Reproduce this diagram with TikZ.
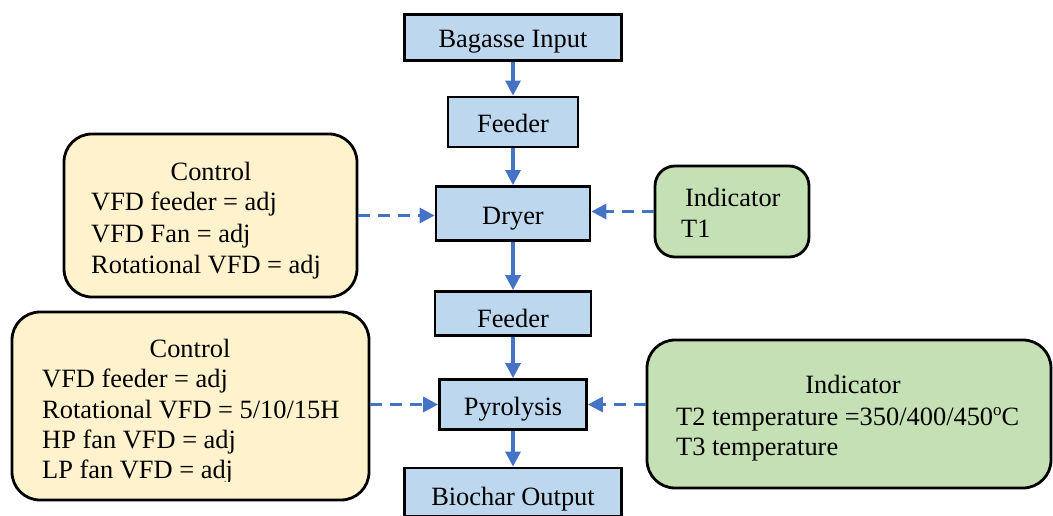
\documentclass[tikz,border=0pt]{standalone}
\usepackage{fontspec}
\setmainfont{Liberation Serif}
\usetikzlibrary{arrows.meta}

\definecolor{procfill}{HTML}{BDD7EE}
\definecolor{ctrlfill}{HTML}{FFF2CC}
\definecolor{indfill}{HTML}{C5E0B4}
\definecolor{flow}{HTML}{4472C4}

\tikzset{
  txt/.style={font=\fontsize{26.4}{31}\selectfont, inner sep=0pt},
  proc/.style={draw=black, line width=2.8pt, fill=procfill, inner sep=0pt},
  panel/.style={draw=black, line width=2.8pt, rounded corners=28pt, inner sep=0pt},
  flowarrow/.style={draw=flow, line width=3.2pt, -{Triangle[length=15pt,width=15pt]}},
  sigarrow/.style={flowarrow, dash pattern=on 12pt off 8pt},
}

\begin{document}
\begin{tikzpicture}[x=1pt, y=-1pt]
\useasboundingbox (0,0) rectangle (1053,516);
\clip (0,0) rectangle (1053,516);

% process chain
\node[proc, minimum width=217pt, minimum height=46pt] (bag)   at (513,37.5)  {};
\node[proc, minimum width=130pt, minimum height=50pt] (feed1) at (513,122)   {};
\node[proc, minimum width=154pt, minimum height=54pt] (dryer) at (513,213.5) {};
\node[proc, minimum width=156pt, minimum height=44pt] (feed2) at (513,313.5) {};
\node[proc, minimum width=147pt, minimum height=50pt] (pyro)  at (513,404.5) {};
\node[proc, minimum width=217pt, minimum height=48pt] (bio)   at (513,492)   {};

\begin{scope}
  \clip (bag.south west) rectangle (bag.north east);
  \node[txt, anchor=base] (bagt) at (513,48) {Bagasse Input};
\end{scope}
\node[txt, anchor=base] (feed1t) at (513,133) {Feeder};
\node[txt, anchor=base] (dryert) at (513,224) {Dryer};
\node[txt, anchor=base] (feed2t) at (513,327) {Feeder};
\node[txt, anchor=base] (pyrot)  at (513,415) {Pyrolysis};
\node[txt, anchor=base] (biot)   at (513,505) {Biochar Output};

% control and indicator panels
\node[panel, fill=ctrlfill, minimum width=293pt, minimum height=163pt] (ctrl1) at (210.5,215.5) {};
\node[panel, fill=indfill, rounded corners=20pt, minimum width=154pt, minimum height=91pt] (ind1) at (732,211.5) {};
\node[panel, fill=ctrlfill, minimum width=357pt, minimum height=188pt] (ctrl2) at (190.5,406) {};
\node[panel, fill=indfill, minimum width=404pt, minimum height=148pt] (ind2) at (849,414) {};

\node[txt, anchor=base] (c1h) at (211,181) {Control};
\node[txt, anchor=base west] (c1a) at (91,211) {VFD feeder = adj};
\node[txt, anchor=base west] (c1b) at (91,242) {VFD Fan = adj};
\node[txt, anchor=base west] (c1c) at (91,273) {Rotational VFD = adj};

\node[txt, anchor=base west] (i1h) at (685,207) {Indicator};
\node[txt, anchor=base west] (i1a) at (681,237) {T1};

\begin{scope}
  \clip (0,300) rectangle (400,481);
  \node[txt, anchor=base] (c2h) at (190,357) {Control};
  \node[txt, anchor=base west] (c2a) at (42,387) {VFD feeder = adj};
  \node[txt, anchor=base west] (c2b) at (42,418) {Rotational VFD = 5/10/15H};
  \node[txt, anchor=base west] (c2c) at (42,448) {HP fan VFD = adj};
  \node[txt, anchor=base west] (c2d) at (42,478) {LP fan VFD = adj};
\end{scope}

\node[txt, anchor=base] (i2h) at (853,393) {Indicator};
\node[txt, anchor=base west] (i2a) at (676,425) {T2 temperature =350/400/450{\fontsize{17}{20}\selectfont\raisebox{9.5pt}{o}}C};
\node[txt, anchor=base west] (i2b) at (676,455) {T3 temperature};

% material flow
\draw[flowarrow] (bag.south)   -- (feed1.north);
\draw[flowarrow] (feed1.south) -- (dryer.north);
\draw[flowarrow] (dryer.south) -- (feed2.north);
\draw[flowarrow] (feed2.south) -- (pyro.north);
\draw[flowarrow] (pyro.south)  -- (bio.north);

% control and measurement signals
\draw[sigarrow] (ctrl1.east) -- (ctrl1.east -| dryer.west);
\draw[sigarrow] (ind1.west)  -- (ind1.west -| dryer.east);
\draw[sigarrow] (pyro.west -| ctrl2.east) -- (pyro.west);
\draw[sigarrow] (pyro.east -| ind2.west)  -- (pyro.east);
\end{tikzpicture}
\end{document}
